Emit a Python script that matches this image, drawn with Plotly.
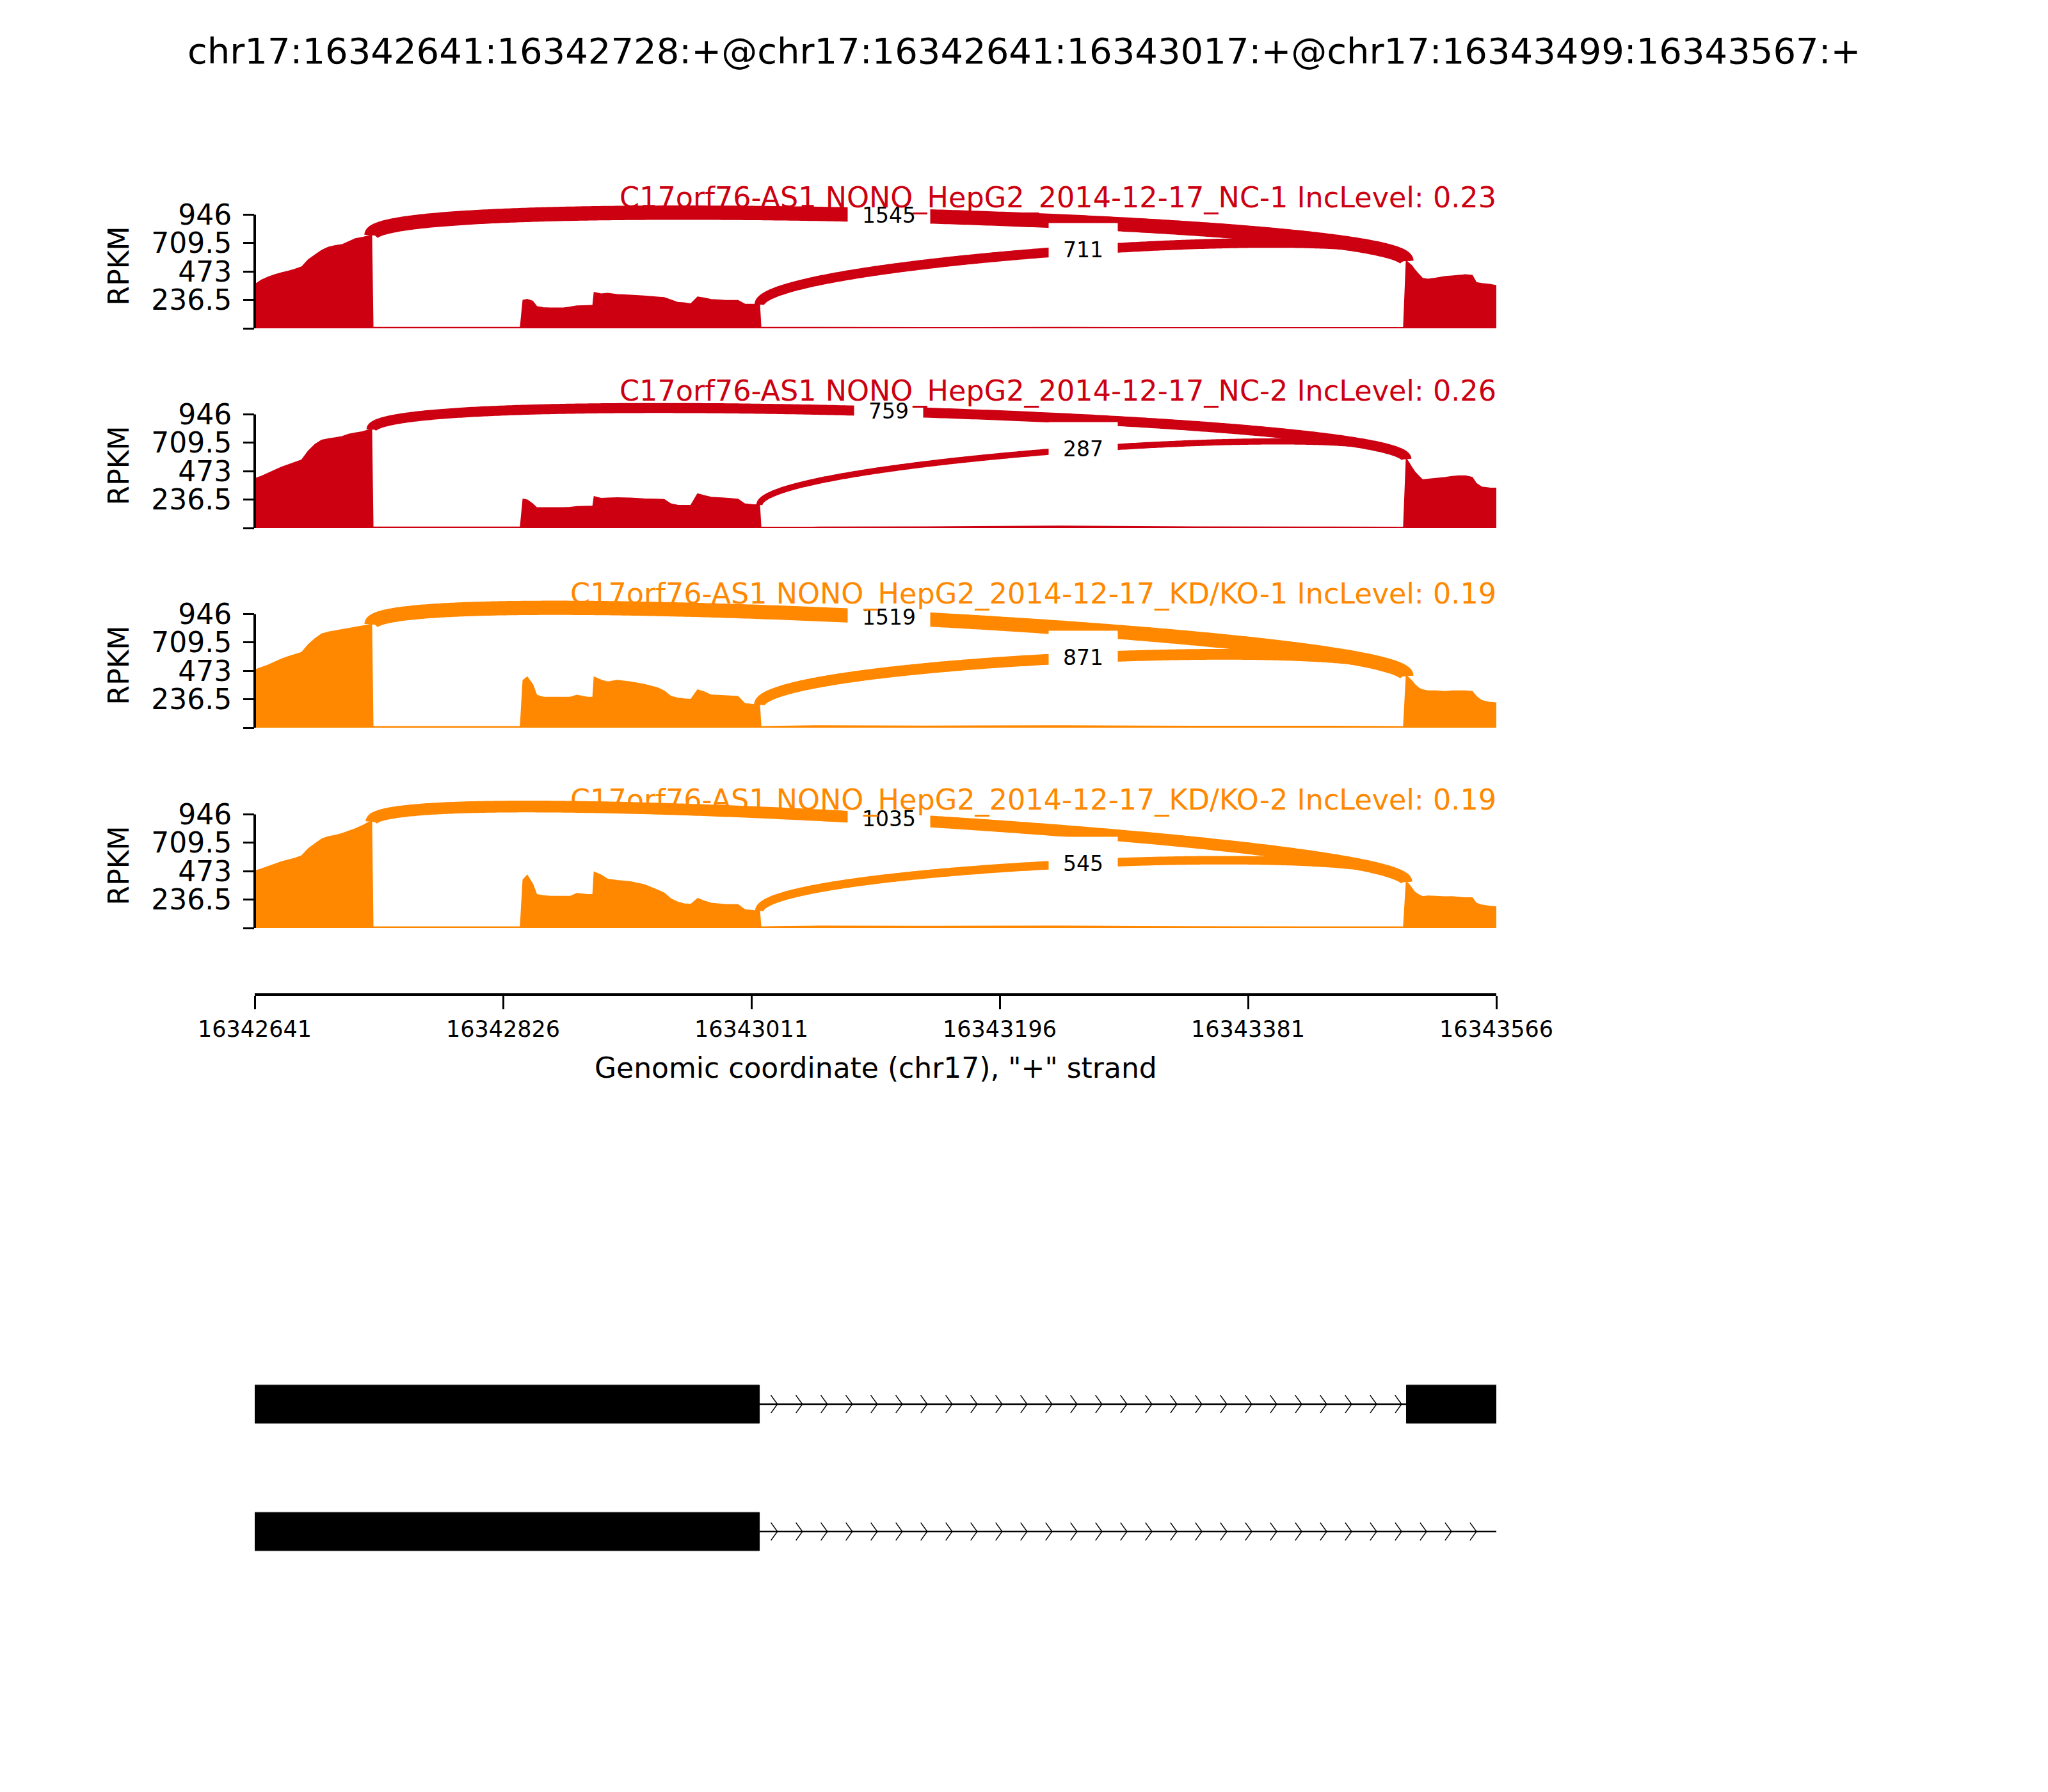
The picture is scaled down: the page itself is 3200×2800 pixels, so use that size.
import numpy as np
import plotly.graph_objects as go

# ---------------- data ----------------
START = 16342641
END = 16343566
TITLE = "chr17:16342641:16342728:+@chr17:16342641:16343017:+@chr17:16343499:16343567:+"

sample_names = [
    "C17orf76-AS1 NONO_HepG2_2014-12-17_NC-1 IncLevel: 0.23",
    "C17orf76-AS1 NONO_HepG2_2014-12-17_NC-2 IncLevel: 0.26",
    "C17orf76-AS1 NONO_HepG2_2014-12-17_KD/KO-1 IncLevel: 0.19",
    "C17orf76-AS1 NONO_HepG2_2014-12-17_KD/KO-2 IncLevel: 0.19",
]
sample_colors = ["#CC0011", "#CC0011", "#FF8800", "#FF8800"]

# coverage breakpoints (bp offset from START)
cov_offsets = ([0, 5, 10, 15, 20, 25, 30, 35, 40, 45, 50, 55, 60, 65, 70, 75, 80, 85, 87]
               + [88, 198]
               + [200, 203, 207, 210, 215, 220, 230, 235, 240, 248, 252, 253, 258, 263, 270, 280,
                  290, 300, 305, 310, 315, 320, 325, 330, 335, 340, 350, 360, 365, 372, 376]
               + [377, 420, 500, 600, 700, 800, 856]
               + [858, 860, 862, 864, 867, 870, 874, 880, 887, 892, 897, 902, 907, 910, 914, 920, 925])

cov_nc1 = ([363, 400, 425, 445, 461, 475, 490, 510, 570, 610, 648, 675, 688, 695, 720, 745, 755, 770, 775]
           + [6, 6]
           + [233, 240, 225, 180, 170, 168, 168, 176, 185, 188, 190, 297, 285, 290, 280, 275,
              268, 258, 254, 235, 215, 210, 203, 260, 250, 238, 232, 230, 200, 198, 198]
           + [6, 6, 5, 6, 5, 5, 5]
           + [560, 540, 520, 490, 450, 415, 408, 417, 430, 435, 440, 445, 440, 380, 372, 365, 355])
cov_nc2 = ([410, 430, 455, 480, 505, 525, 545, 565, 640, 695, 730, 742, 750, 760, 780, 790, 800, 815, 820]
           + [6, 6]
           + [239, 232, 200, 168, 168, 168, 168, 170, 177, 180, 180, 260, 245, 248, 251, 248,
              241, 239, 236, 200, 188, 186, 188, 283, 268, 255, 248, 239, 200, 192, 192]
           + [5, 6, 8, 14, 8, 6, 5]
           + [574, 540, 504, 470, 433, 400, 405, 412, 420, 428, 433, 433, 420, 370, 340, 332, 330])
cov_kd1 = ([480, 500, 520, 545, 570, 590, 608, 625, 690, 740, 780, 795, 805, 815, 825, 835, 845, 855, 860]
           + [8, 8]
           + [393, 420, 358, 269, 252, 252, 252, 252, 269, 252, 252, 420, 395, 380, 393, 380,
              360, 331, 305, 260, 245, 238, 234, 314, 296, 270, 265, 258, 200, 190, 190]
           + [8, 15, 12, 14, 10, 10, 8]
           + [430, 410, 390, 360, 330, 314, 305, 305, 300, 305, 305, 305, 300, 260, 225, 210, 205])
cov_kd2 = ([473, 490, 510, 530, 550, 565, 580, 600, 660, 700, 740, 760, 770, 785, 805, 825, 850, 880, 885]
           + [8, 8]
           + [400, 437, 366, 277, 268, 262, 262, 262, 286, 277, 277, 464, 440, 405, 395, 384,
              360, 315, 290, 241, 215, 200, 196, 245, 223, 205, 195, 193, 152, 143, 143]
           + [8, 14, 12, 14, 9, 8, 8]
           + [384, 360, 330, 300, 277, 260, 265, 262, 258, 260, 255, 250, 250, 205, 190, 180, 175])
coverages = [cov_nc1, cov_nc2, cov_kd1, cov_kd2]

junctions = [(16342728, 16343499), (16343017, 16343499)]
jxn_counts = [[1545, 711], [759, 287], [1519, 871], [1035, 545]]

Y_MAX = 946
ytick_vals = [0, 236.5, 473, 709.5, 946]
ytick_text = ["", "236.5", "473", "709.5", "946"]
xtick_vals = [16342641, 16342826, 16343011, 16343196, 16343381, 16343566]
xtick_text = [str(v) for v in xtick_vals]

# transcripts: exons and span end
transcripts = [
    {"exons": [(16342641, 16343017), (16343499, 16343567)], "end": 16343567},
    {"exons": [(16342641, 16343017)], "end": 16343567},
]

# ---------------- layout geometry (pixels) ----------------
W, H = 3200, 2800
OFF = 8  # page body margin in the browser
FONT = "DejaVu Sans"
X_L, X_R = 398 - OFF, 2338 - OFF
xdom = [X_L / W, X_R / W]
ZERO_PX = [513 - OFF, 825 - OFF, 1137 - OFF, 1450 - OFF]
PX_PER_UNIT = 177.5 / 946
Y_LO, Y_HI = -25, 1200
TITLE_PX = [309 - OFF, 611 - OFF, 928 - OFF, 1250 - OFF]
XAXIS_PX = 1554 - OFF
H_FRAC = 0.385

fig = go.Figure()
layout = dict(
    template="none",
    width=W, height=H, margin=dict(l=0, r=0, t=0, b=0, pad=0, autoexpand=False),
    paper_bgcolor="white", plot_bgcolor="rgba(0,0,0,0)", showlegend=False,
    font=dict(family=FONT, color="black"),
)
shapes = []
label_annots = []
other_annots = []

for i in range(4):
    ax = i + 1
    xa = f"x{ax}" if ax > 1 else "x"
    ya = f"y{ax}" if ax > 1 else "y"
    top = ZERO_PX[i] - Y_HI * PX_PER_UNIT
    bot = ZERO_PX[i] - Y_LO * PX_PER_UNIT
    color = sample_colors[i]

    xaxis = dict(domain=xdom, range=[START, END], showgrid=False, zeroline=False,
                 automargin=False)
    if ax == 4:
        xaxis.update(anchor="free", position=1 - XAXIS_PX / H, showline=True, linewidth=4,
                     linecolor="black", ticks="outside", ticklen=21, tickwidth=3,
                     tickcolor="black", tickvals=xtick_vals, ticktext=xtick_text,
                     tickfont=dict(size=35, family=FONT), ticklabelstandoff=1)
    else:
        xaxis.update(anchor=ya, visible=False)
    layout[f"xaxis{ax if ax > 1 else ''}"] = xaxis
    layout[f"yaxis{ax if ax > 1 else ''}"] = dict(
        domain=[1 - bot / H, 1 - top / H], range=[Y_LO, Y_HI], anchor=xa,
        showgrid=False, zeroline=False, showline=False, automargin=False,
        ticks="outside", ticklen=17, tickwidth=3, tickcolor="black",
        tickvals=ytick_vals, ticktext=ytick_text,
        tickfont=dict(size=44, family=FONT), ticklabelstandoff=9,
    )

    xs = START + np.array(cov_offsets, dtype=float)
    ys = np.array(coverages[i], dtype=float)
    fig.add_trace(go.Scatter(x=xs, y=ys, xaxis=xa, yaxis=ya, mode="lines",
                             fill="tozeroy", fillcolor=color,
                             line=dict(color=color, width=2, simplify=False),
                             hoverinfo="skip"))

    h = H_FRAC * Y_MAX
    t = np.linspace(0, 1, 400)
    for (ss1, ss2), cnt in zip(junctions, jxn_counts[i]):
        ld = float(np.interp(ss1, xs, ys))
        rd = float(np.interp(ss2, xs, ys))
        px = np.array([ss1, ss1, ss2, ss2], dtype=float)
        py = np.array([ld, ld + h, rd + h, rd])
        b0 = (1 - t) ** 3
        b1 = 3 * (1 - t) ** 2 * t
        b2 = 3 * (1 - t) * t ** 2
        b3 = t ** 3
        bx = b0 * px[0] + b1 * px[1] + b2 * px[2] + b3 * px[3]
        by = b0 * py[0] + b1 * py[1] + b2 * py[2] + b3 * py[3]
        fig.add_trace(go.Scatter(x=bx, y=by, xaxis=xa, yaxis=ya, mode="lines",
                                 line=dict(color=color, width=0.57 * np.sqrt(cnt), simplify=False),
                                 hoverinfo="skip"))
        mx = 0.125 * px[0] + 0.375 * px[1] + 0.375 * px[2] + 0.125 * px[3]
        my = 0.125 * py[0] + 0.375 * py[1] + 0.375 * py[2] + 0.125 * py[3]
        label_annots.append(dict(x=mx, y=my, xref=xa, yref=ya, text=str(cnt),
                                 showarrow=False, font=dict(size=33, family=FONT, color="black"),
                                 bgcolor="white", borderpad=22))

    # y spine bounded 0..Y_MAX
    shapes.append(dict(type="line", xref=f"{xa} domain", yref=ya, x0=0, x1=0,
                       y0=0, y1=Y_MAX, line=dict(color="black", width=4)))
    # panel title
    other_annots.append(dict(x=(X_R + 2) / W, y=1 - TITLE_PX[i] / H, xref="paper", yref="paper",
                             xanchor="right", yanchor="middle", text=sample_names[i],
                             showarrow=False, font=dict(size=44.5, family=FONT, color=color)))
    # RPKM label
    other_annots.append(dict(x=(185 - OFF) / W, y=520, xref="paper", yref=ya, xanchor="center",
                             yanchor="middle", text="RPKM", textangle=-90, showarrow=False,
                             font=dict(size=44, family=FONT, color="black")))

# ---------------- gene model ----------------
ROW_PX = [2194 - OFF, 2393 - OFF]
UNIT_PX = ROW_PX[1] - ROW_PX[0]
g_top = ROW_PX[0] - 0.5 * UNIT_PX
g_bot = ROW_PX[1] + 0.5 * UNIT_PX
layout["xaxis5"] = dict(domain=xdom, range=[START, END], visible=False, anchor="y5",
                        automargin=False)
layout["yaxis5"] = dict(domain=[1 - g_bot / H, 1 - g_top / H], range=[-0.5, 1.5],
                        visible=False, anchor="x5", automargin=False)
EXON_HALF = 0.15
CHEV_H = 0.07
CHEV_W = 4.8
CHEV_FIRST = 13.4
CHEV_STEP = 18.6
for k, tr in enumerate(transcripts):
    yc = 1 - k
    exons = tr["exons"]
    intr = []
    for j in range(len(exons)):
        s = exons[j][1]
        e = exons[j + 1][0] if j + 1 < len(exons) else tr["end"]
        if e > s:
            intr.append((s, e))
    for (s, e) in intr:
        fig.add_trace(go.Scatter(x=[s, e], y=[yc, yc], xaxis="x5", yaxis="y5", mode="lines",
                                 line=dict(color="black", width=2.5), hoverinfo="skip"))
        tips = np.arange(s + CHEV_FIRST, e - 3, CHEV_STEP)
        cx, cy = [], []
        for tp in tips:
            cx += [tp - CHEV_W, tp, tp - CHEV_W, None]
            cy += [yc + CHEV_H, yc, yc - CHEV_H, None]
        fig.add_trace(go.Scatter(x=cx, y=cy, xaxis="x5", yaxis="y5", mode="lines",
                                 line=dict(color="black", width=1.5), hoverinfo="skip"))
    for (a, b) in exons:
        fig.add_trace(go.Scatter(x=[a, b, b, a, a],
                                 y=[yc - EXON_HALF, yc - EXON_HALF, yc + EXON_HALF, yc + EXON_HALF, yc - EXON_HALF],
                                 xaxis="x5", yaxis="y5", mode="lines", fill="toself",
                                 fillcolor="black", line=dict(color="black", width=1),
                                 hoverinfo="skip"))

# ---------------- titles ----------------
other_annots.append(dict(x=(1600 - OFF) / W, y=1 - (79 - OFF) / H, xref="paper", yref="paper",
                         xanchor="center", yanchor="middle", text=TITLE, showarrow=False,
                         font=dict(size=56, family=FONT, color="black")))
other_annots.append(dict(x=(X_L + X_R) / 2 / W, y=1 - (1668 - OFF) / H, xref="paper", yref="paper",
                         xanchor="center", yanchor="middle",
                         text='Genomic coordinate (chr17), "+" strand', showarrow=False,
                         font=dict(size=44, family=FONT, color="black")))

layout["shapes"] = shapes
layout["annotations"] = label_annots + other_annots
fig.update_layout(**layout)
fig.write_html("out.html")
